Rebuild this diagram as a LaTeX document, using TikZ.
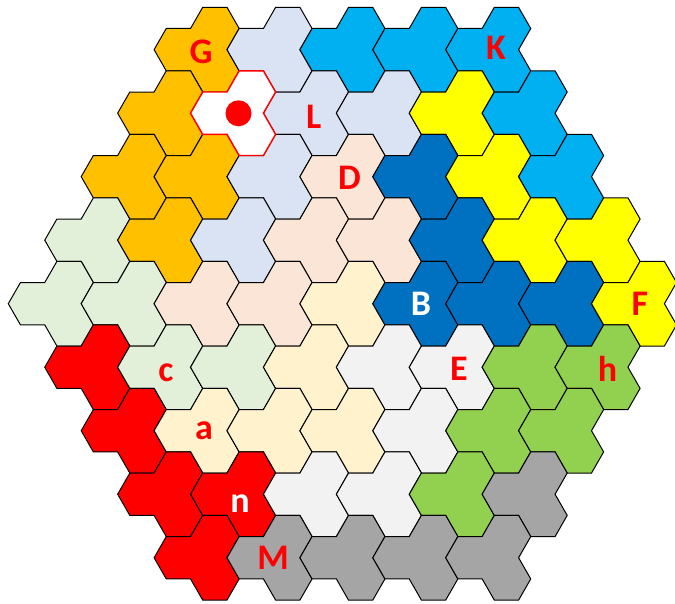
\documentclass[tikz,border=0pt]{standalone}
\usepackage{fontspec}
\setmainfont{Carlito}
\definecolor{cG}{HTML}{FFC000}
\definecolor{cLav}{HTML}{DAE3F3}
\definecolor{cCyan}{HTML}{00B0F0}
\definecolor{cDBlue}{HTML}{0070C0}
\definecolor{cYel}{HTML}{FFFF00}
\definecolor{cPeach}{HTML}{FBE5D6}
\definecolor{cLGreen}{HTML}{E2F0D9}
\definecolor{cRed}{HTML}{FF0000}
\definecolor{cCream}{HTML}{FFF2CC}
\definecolor{cLGray}{HTML}{F2F2F2}
\definecolor{cGreen}{HTML}{92D050}
\definecolor{cGray}{HTML}{A5A5A5}
\tikzset{
  piece/.style={draw=black, line width=1pt, line join=miter},
  lbl/.style={font=\fontsize{36}{36}\selectfont\bfseries, text=red, inner sep=0pt},
}
\newcommand{\trihexoutline}{(-48.6,0) -- (-36.45,-21.17) -- (-12.15,-21.17) -- (0,-42.34) -- (24.3,-42.34) -- (36.45,-21.17) -- (24.3,0) -- (36.45,21.17) -- (24.3,42.34) -- (0,42.34) -- (-12.15,21.17) -- (-36.45,21.17) -- cycle}
\begin{document}
\begin{tikzpicture}[x=1pt,y=-1pt]
\useasboundingbox (0,0) rectangle (675,603);
\foreach \k/\m/\c in {
  4/-12/cG, 6/-12/cLav, 8/-12/cCyan, 10/-12/cCyan, 12/-12/cCyan,
  3/-9/cG, 7/-9/cLav, 9/-9/cLav, 11/-9/cYel, 13/-9/cCyan,
  2/-6/cG, 4/-6/cG, 6/-6/cLav, 8/-6/cPeach, 10/-6/cDBlue, 12/-6/cYel, 14/-6/cCyan,
  1/-3/cLGreen, 3/-3/cG, 5/-3/cLav, 7/-3/cPeach, 9/-3/cPeach, 11/-3/cDBlue, 13/-3/cYel, 15/-3/cYel,
  0/0/cLGreen, 2/0/cLGreen, 4/0/cPeach, 6/0/cPeach, 8/0/cCream, 10/0/cDBlue, 12/0/cDBlue, 14/0/cDBlue, 16/0/cYel,
  1/3/cRed, 3/3/cLGreen, 5/3/cLGreen, 7/3/cCream, 9/3/cLGray, 11/3/cLGray, 13/3/cGreen, 15/3/cGreen,
  2/6/cRed, 4/6/cCream, 6/6/cCream, 8/6/cCream, 10/6/cLGray, 12/6/cGreen, 14/6/cGreen,
  3/9/cRed, 5/9/cRed, 7/9/cLGray, 9/9/cLGray, 11/9/cGreen, 13/9/cGray,
  4/12/cRed, 6/12/cGray, 8/12/cGray, 10/12/cGray, 12/12/cGray}
{
  \begin{scope}[shift={({56.9+36.45*\k},{303.7+21.17*(\m)})}]
    \path[piece, fill=\c] \trihexoutline;
  \end{scope}
}
% white piece with red border and dot
\begin{scope}[shift={({56.9+36.45*5},{303.7+21.17*(-9)})}]
  \path[piece, fill=white, draw=red, line width=1.4pt] \trihexoutline;
\end{scope}
\fill[red] (238.5,113.3) circle[radius=13pt];
% labels
\node[lbl] (G) at (201,52) {G};
\node[lbl] (L) at (313.7,116.5) {L};
\node[lbl] (K) at (496,47.5) {K};
\node[lbl] (D) at (349.5,178.3) {D};
\node[lbl,text=white] (B) at (421,303.5) {B};
\node[lbl] (F) at (640,303.5) {F};
\node[lbl] (E) at (459,369) {E};
\node[lbl] (h) at (607.5,369) {h};
\node[lbl] (c) at (166,372.5) {c};
\node[lbl] (a) at (204,431) {a};
\node[lbl,text=white] (n) at (240,503.7) {n};
\node[lbl] (M) at (273,558) {M};
\end{tikzpicture}
\end{document}
